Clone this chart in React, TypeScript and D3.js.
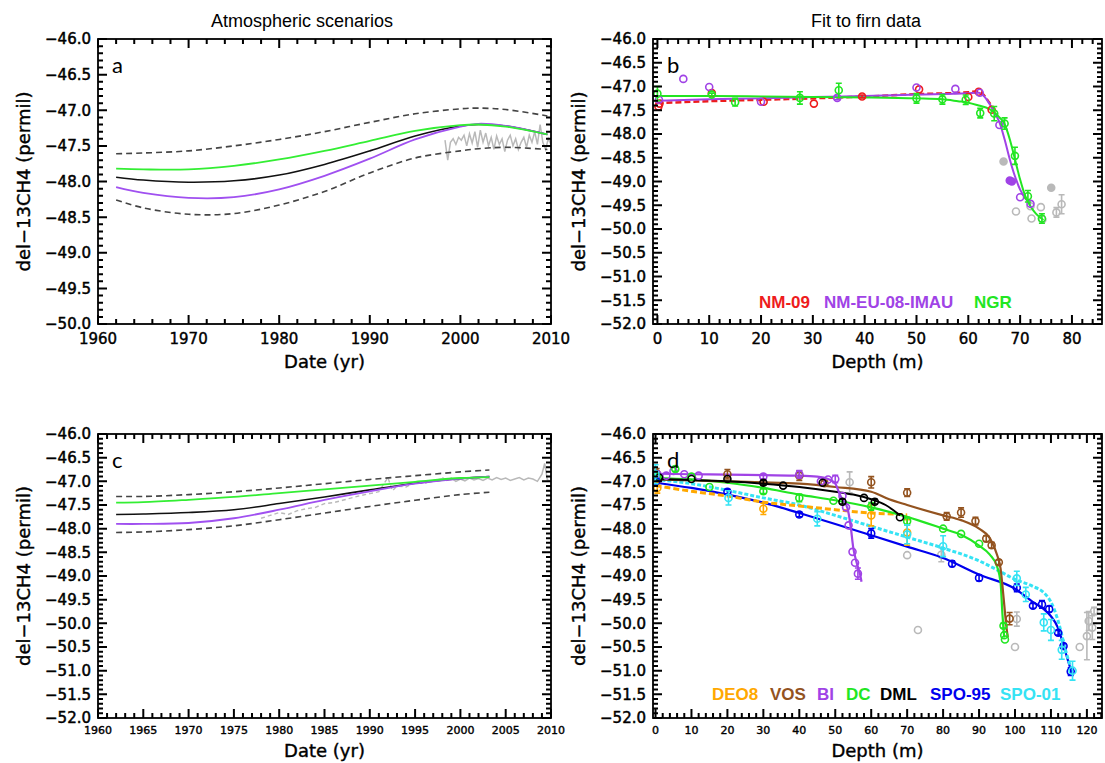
import React from "react";
import * as d3 from "d3";

// ---------------- Panel a : atmospheric scenarios (NH) ----------------
const yearsA = [1962, 1965, 1970, 1975, 1980, 1985, 1990, 1995, 2000, 2002, 2005, 2009.6];
const aUpper = [-47.61, -47.6, -47.57, -47.5, -47.41, -47.3, -47.17, -47.05, -46.98, -46.97, -46.99, -47.08];
const aGreen = [-47.82, -47.83, -47.83, -47.78, -47.69, -47.57, -47.43, -47.29, -47.21, -47.2, -47.23, -47.34];
const aBlack = [-47.94, -47.98, -48.01, -47.99, -47.91, -47.76, -47.57, -47.36, -47.22, -47.2, -47.22, -47.34];
const aPurple = [-48.08, -48.16, -48.23, -48.22, -48.11, -47.92, -47.68, -47.41, -47.23, -47.19, -47.22, -47.34];
const aLower = [-48.26, -48.37, -48.46, -48.45, -48.33, -48.14, -47.88, -47.67, -47.57, -47.54, -47.52, -47.55];
const aObsYears = [1998.3, 1998.6, 1998.9, 1999.2, 1999.5, 1999.8, 2000.1, 2000.4, 2000.7, 2001.0, 2001.3, 2001.6, 2001.9, 2002.2, 2002.5, 2002.8, 2003.1, 2003.4, 2003.7, 2004.0, 2004.3, 2004.6, 2004.9, 2005.2, 2005.5, 2005.8, 2006.1, 2006.4, 2006.7, 2007.0, 2007.3, 2007.6, 2007.9, 2008.2, 2008.5, 2008.8, 2009.1, 2009.4, 2009.7, 2010.0];
const aObs = [-47.42, -47.7, -47.45, -47.4, -47.48, -47.38, -47.42, -47.35, -47.5, -47.33, -47.46, -47.3, -47.52, -47.28, -47.45, -47.32, -47.5, -47.38, -47.55, -47.36, -47.48, -47.4, -47.58, -47.42, -47.35, -47.5, -47.4, -47.55, -47.45, -47.38, -47.52, -47.35, -47.45, -47.3, -47.48, -47.2, -47.45, -47.55, -47.4, -47.48];

// ---------------- Panel c : atmospheric scenarios (SH) ----------------
const yearsC = [1962, 1965, 1970, 1975, 1980, 1985, 1990, 1995, 2000, 2003.2];
const cUpper = [-47.32, -47.32, -47.28, -47.22, -47.14, -47.05, -46.96, -46.88, -46.8, -46.76];
const cGreen = [-47.45, -47.44, -47.39, -47.33, -47.25, -47.17, -47.09, -47.01, -46.93, -46.91];
const cBlack = [-47.7, -47.69, -47.66, -47.6, -47.47, -47.33, -47.18, -47.04, -46.94, -46.9];
const cPurple = [-47.9, -47.9, -47.88, -47.78, -47.6, -47.39, -47.21, -47.05, -46.94, -46.9];
const cLower = [-48.08, -48.07, -48.02, -47.94, -47.81, -47.67, -47.53, -47.4, -47.28, -47.23];
const cIceYears = [1978, 1979, 1980, 1981, 1982, 1983, 1984, 1985, 1986, 1987, 1988, 1989, 1990, 1991, 1992, 1992.5, 1993, 1994, 1995, 1996, 1997, 1998];
const cIce = [-47.78, -47.72, -47.66, -47.7, -47.62, -47.58, -47.55, -47.47, -47.45, -47.4, -47.35, -47.3, -47.26, -47.22, -46.92, -47.2, -47.1, -47.12, -47.02, -47.05, -46.98, -46.95];
const cObsYears = [1998, 1998.5, 1999, 1999.5, 2000, 2000.5, 2001, 2001.5, 2002, 2002.5, 2003, 2003.5, 2004, 2004.5, 2005, 2005.5, 2006, 2006.5, 2007, 2007.5, 2008, 2008.5, 2009, 2009.3, 2009.6, 2010];
const cObs = [-46.92, -46.98, -46.93, -47.0, -46.95, -46.99, -46.93, -46.97, -46.94, -46.98, -46.93, -46.97, -46.92, -46.96, -46.93, -46.98, -46.95, -46.92, -46.97, -46.93, -46.95, -47.0, -46.85, -46.62, -46.97, -47.0];

// ---------------- Panel b : NEEM / NGRIP firn ----------------
const nm09Depth = [0, 10, 20, 30, 40, 50, 60, 62, 63, 64, 65];
const nm09Fit = [-47.35, -47.31, -47.28, -47.25, -47.21, -47.16, -47.12, -47.1, -47.18, -47.33, -47.47];
const nmeuDepth = [0, 10, 20, 30, 40, 50, 60, 62, 63, 64, 65, 66, 67, 68, 69, 70, 71, 72];
const nmeuFit = [-47.3, -47.27, -47.25, -47.22, -47.2, -47.17, -47.14, -47.13, -47.2, -47.35, -47.54, -47.75, -48.11, -48.53, -48.89, -49.17, -49.35, -49.49];
const ngrDepth = [0, 10, 20, 30, 40, 50, 55, 58, 60, 62, 64, 65, 66, 67, 68, 69, 70, 71, 72, 73, 74, 74.5];
const ngrFit = [-47.2, -47.2, -47.21, -47.22, -47.23, -47.25, -47.27, -47.31, -47.34, -47.4, -47.47, -47.54, -47.65, -47.79, -48.11, -48.53, -48.96, -49.31, -49.52, -49.67, -49.77, -49.81];

// [depth, value, error]
const nm09Pts = [[0.2, -47.42, 0], [0.4, -47.36, 0], [10.5, -47.14, 0], [20.5, -47.32, 0], [30.2, -47.36, 0], [39.5, -47.21, 0.03], [50.5, -47.06, 0], [60, -47.22, 0], [62, -47.11, 0], [64.5, -47.49, 0]];
const nmeuPts = [[0.3, -47.28, 0], [5, -46.84, 0], [10, -47.01, 0], [20, -47.32, 0], [34.7, -47.24, 0.04], [50, -47.02, 0], [57.5, -47.05, 0], [62.2, -47.13, 0], [66, -47.81, 0], [70, -49.33, 0], [72, -49.47, 0]];
const nmeuFilled = [[68, -48.98, 0], [68.4, -49.0, 0]];
const ngrPts = [[0, -47.15, 0.15], [10.5, -47.17, 0.03], [15, -47.33, 0.08], [27.5, -47.24, 0.13], [35, -47.08, 0.15], [50, -47.25, 0.1], [55, -47.27, 0.1], [59.5, -47.28, 0.1], [62.3, -47.56, 0.1], [65, -47.57, 0.15], [67, -47.78, 0.12], [69, -48.46, 0.18], [71.5, -49.31, 0.12], [74.2, -49.78, 0.1]];
const grayPtsB = [[69.2, -49.63, 0], [72, -49.52, 0], [72.2, -49.78, 0], [74, -49.54, 0], [74.3, -49.8, 0], [77, -49.65, 0.1], [78, -49.48, 0.2]];
const grayFilledB = [[66.8, -48.58, 0], [76, -49.13, 0]];

// ---------------- Panel d : Antarctic firn ----------------
const deo8Depth = [0, 10, 20, 30, 40, 50, 60, 68, 70];
const deo8Fit = [-47.09, -47.21, -47.31, -47.44, -47.52, -47.6, -47.67, -47.7, -47.71];
const vosDepth = [0, 10, 20, 30, 40, 50, 60, 65, 70, 80, 85, 90, 93, 95, 96, 96.5, 97, 97.5, 98];
const vosFit = [-46.96, -46.98, -47.0, -47.02, -47.05, -47.12, -47.22, -47.38, -47.5, -47.72, -47.82, -48.0, -48.2, -48.55, -48.85, -49.2, -49.6, -50.0, -50.3];
const biDepth = [0, 10, 20, 30, 40, 45, 48, 50, 51.4, 53.4, 54.3, 55, 56, 57, 57.3];
const biFit = [-46.84, -46.85, -46.86, -46.87, -46.88, -46.9, -46.95, -47.05, -47.3, -47.57, -47.96, -48.4, -48.73, -49.0, -49.12];
const dcDepth = [0, 10, 20, 30, 40, 50, 60, 70, 80, 85, 90, 93, 95, 96, 96.5, 97];
const dcFit = [-46.93, -46.96, -47.03, -47.14, -47.28, -47.4, -47.55, -47.75, -48.0, -48.13, -48.36, -48.55, -48.8, -49.15, -49.8, -50.3];
const dmlDepth = [0, 10, 20, 30, 40, 50, 55, 60, 64, 66, 68];
const dmlFit = [-46.95, -46.97, -47.0, -47.05, -47.12, -47.22, -47.28, -47.38, -47.5, -47.6, -47.72];
const spo95Depth = [0, 10, 20, 30, 40, 50, 60, 70, 80, 90, 100, 105, 108, 110, 112, 114, 116];
const spo95Fit = [-47.03, -47.14, -47.28, -47.45, -47.67, -47.9, -48.14, -48.38, -48.62, -48.97, -49.27, -49.55, -49.7, -49.85, -50.1, -50.6, -51.1];
const spo01Depth = [0, 10, 20, 30, 40, 50, 60, 70, 80, 90, 95, 100, 105, 108, 110, 112, 114, 116];
const spo01Fit = [-46.96, -47.05, -47.19, -47.35, -47.5, -47.72, -47.95, -48.18, -48.41, -48.68, -48.87, -49.07, -49.22, -49.35, -49.55, -49.95, -50.55, -51.05];

const deo8Pts = [[0.5, -47.14, 0.11], [30, -47.58, 0.12], [60, -47.72, 0.22], [70, -48.08, 0.27]];
const vosPts = [[0.3, -46.83, 0.1], [20, -46.85, 0.1], [40, -46.88, 0.1], [47, -47.04, 0.05], [60, -47.02, 0.12], [70, -47.24, 0.08], [81, -47.74, 0.08], [85, -47.66, 0.1], [89, -47.84, 0.08], [92, -48.21, 0.06], [93.5, -48.35, 0.06], [95.5, -48.71, 0.05], [98.5, -49.9, 0.13]];
const biPts = [[0.5, -46.85, 0], [3, -46.88, 0], [5, -46.78, 0], [8, -46.85, 0], [12, -46.88, 0], [30, -46.9, 0.05], [40, -46.85, 0.08], [46, -47.0, 0], [48, -46.96, 0], [50, -46.95, 0.08], [52, -47.31, 0], [53, -47.55, 0], [53.7, -47.93, 0], [54.8, -48.49, 0], [55.5, -48.72, 0], [56.3, -48.95, 0.12]];
const dcPts = [[0.5, -46.9, 0], [5.5, -46.74, 0.05], [10, -46.9, 0], [15, -47.12, 0], [30, -47.21, 0.05], [40, -47.35, 0.08], [49.5, -47.41, 0], [60, -47.53, 0.08], [70, -47.84, 0.08], [80, -48.0, 0], [85, -48.11, 0], [90, -48.32, 0], [96.8, -50.05, 0.05], [97, -50.25, 0], [97.2, -50.34, 0]];
const dmlPts = [[1, -46.92, 0], [10, -46.95, 0], [20, -46.95, 0], [30, -47.03, 0.05], [35.5, -47.09, 0], [46.5, -47.03, 0], [52, -47.43, 0.05], [58, -47.35, 0], [61, -47.43, 0.05], [68, -47.76, 0]];
const spo95Pts = [[0.2, -47.0, 0], [20, -47.22, 0.05], [40, -47.7, 0.05], [60, -48.1, 0.1], [82.5, -48.74, 0.06], [90, -49.04, 0.06], [100.5, -49.25, 0.08], [105, -49.63, 0.05], [107.5, -49.6, 0.08], [109.5, -49.7, 0.06], [112, -50.2, 0.05], [113.5, -50.48, 0.05], [115.5, -51.02, 0.08]];
const spo01Pts = [[0, -46.85, 0.2], [20.3, -47.35, 0.15], [45, -47.79, 0.15], [70, -48.12, 0.2], [80, -48.37, 0.22], [100.5, -49.05, 0.15], [103, -49.39, 0.15], [108, -49.98, 0.18], [110, -50.14, 0.22], [113, -50.56, 0.2], [116, -51.0, 0.2]];
const grayPtsD = [[54, -47.02, 0.22], [70, -48.56, 0], [73, -50.14, 0], [79.5, -48.55, 0.15], [100, -50.5, 0], [100.5, -49.91, 0.15], [118, -50.5, 0], [120, -50.27, 0.5], [120.5, -49.95, 0.2], [121.5, -50.09, 0.25], [122, -49.74, 0.08]];

const legendB = ["NM-09", "NM-EU-08-IMAU", "NGR"];
const legendD = ["DEO8", "VOS", "BI", "DC", "DML", "SPO-95", "SPO-01"];

// ---------------- styling ----------------
const C = {
  red: "#ee1c1c",
  purple: "#a043e6",
  green: "#22e622",
  orange: "#ffa800",
  brown: "#93531f",
  black: "#000000",
  blue: "#0000ee",
  cyan: "#35e3f4",
  gray: "#b9b9b9",
  dash: "#444444",
};
const legendBColors = [C.red, C.purple, C.green];
const legendDColors = [C.orange, C.brown, C.purple, C.green, C.black, C.blue, C.cyan];

type Scale = d3.ScaleLinear<number, number>;
const tickFont = "'DejaVu Sans', Verdana, sans-serif";
const fmt = d3.format(".1f");

function makePath(xs: number[], ys: number[], sx: Scale, sy: Scale, curve: d3.CurveFactory) {
  const pts: [number, number][] = xs.map((x, i) => [x, ys[i]]);
  return (
    d3
      .line<[number, number]>()
      .x((d) => sx(d[0]))
      .y((d) => sy(d[1]))
      .curve(curve)(pts) || ""
  );
}

function Points({ data, sx, sy, color, filled = false }: { data: number[][]; sx: Scale; sy: Scale; color: string; filled?: boolean }) {
  return (
    <g>
      {data.map((p, i) => {
        const [dx, v, e] = p;
        const cx = sx(dx);
        const cy = sy(v);
        return (
          <g key={i}>
            {e > 0 && (
              <path
                d={`M${cx},${sy(v - e)}V${sy(v + e)}M${cx - 3},${sy(v - e)}H${cx + 3}M${cx - 3},${sy(v + e)}H${cx + 3}`}
                stroke={color}
                strokeWidth={1.6}
                fill="none"
              />
            )}
            <circle cx={cx} cy={cy} r={3.5} fill={filled ? color : "none"} stroke={color} strokeWidth={1.6} />
          </g>
        );
      })}
    </g>
  );
}

function tickPath(sx: Scale, sy: Scale, xMinor: number[], xMajor: number[], yMinor: number[], yMajor: number[], minL: number, majL: number) {
  const [l, r] = sx.range();
  const [b, t] = sy.range();
  const segs: string[] = [];
  const v = (X: number, len: number) => {
    segs.push(`M${X},${b}v${-len}`);
    segs.push(`M${X},${t}v${len}`);
  };
  const h = (Y: number, len: number) => {
    segs.push(`M${l},${Y}h${len}`);
    segs.push(`M${r},${Y}h${-len}`);
  };
  xMinor.forEach((x) => v(sx(x), minL));
  xMajor.forEach((x) => v(sx(x), majL));
  yMinor.forEach((y) => h(sy(y), minL));
  yMajor.forEach((y) => h(sy(y), majL));
  return segs.join("");
}

interface FrameProps {
  id: string;
  sx: Scale;
  sy: Scale;
  xMajor: number[];
  xMinor: number[];
  xLabels: number[];
  yMajor: number[];
  yMinor: number[];
  xLabelSize: number;
  xLabelDy: number;
  xTitle: string;
  xTitleDy: number;
  letter: string;
  children?: React.ReactNode;
}

function Frame(p: FrameProps) {
  const [l, r] = p.sx.range();
  const [b, t] = p.sy.range();
  const cx = (l + r) / 2;
  const cy = (t + b) / 2;
  const d = tickPath(p.sx, p.sy, p.xMinor, p.xMajor, p.yMinor, p.yMajor, 5, 9);
  return (
    <g>
      <defs>
        <clipPath id={p.id}>
          <rect x={l} y={t} width={r - l} height={b - t} />
        </clipPath>
      </defs>
      <g clipPath={`url(#${p.id})`}>{p.children}</g>
      <rect x={l} y={t} width={r - l} height={b - t} fill="none" stroke="#000" strokeWidth={1.8} />
      <path d={d} fill="none" stroke="#000" strokeWidth={2} />
      <g fontFamily={tickFont} fontSize={15} fill="#000" stroke="#000" strokeWidth={0.5} textAnchor="end">
        {p.yMajor.map((v, i) => (
          <text key={"yl" + i} x={l - 7} y={p.sy(v)} dy="0.36em">
            {fmt(v)}
          </text>
        ))}
      </g>
      <g fontFamily={tickFont} fontSize={p.xLabelSize} fill="#000" stroke="#000" strokeWidth={0.4} textAnchor="middle">
        {p.xLabels.map((v, i) => (
          <text key={"xl" + i} x={p.sx(v)} y={b + p.xLabelDy}>
            {v}
          </text>
        ))}
      </g>
      <text x={cx} y={b + p.xTitleDy} fontFamily={tickFont} fontSize={18} textAnchor="middle" fill="#000" stroke="#000" strokeWidth={0.4}>
        {p.xTitle}
      </text>
      <text
        transform={`translate(${l - 74},${cy}) rotate(-90)`}
        fontFamily={tickFont}
        fontSize={18}
        textAnchor="middle"
        dy="0.35em"
        fill="#000"
        stroke="#000"
        strokeWidth={0.4}
      >
        del−13CH4 (permil)
      </text>
      <text x={l + 14} y={t + 34} fontFamily="Lato, 'Open Sans', sans-serif" fontSize={22} fill="#000">
        {p.letter}
      </text>
    </g>
  );
}

const tenth = (a: number, b: number) => d3.range(Math.round(a * 10), Math.round(b * 10) + 1).map((v) => v / 10);
const halves = (a: number, b: number) => d3.range(Math.round(a * 2), Math.round(b * 2) + 1).map((v) => v / 2);

export default function App() {
  const xa = d3.scaleLinear().domain([1960, 2010]).range([98, 551]);
  const ya = d3.scaleLinear().domain([-50, -46]).range([324, 39]);
  const xb = d3.scaleLinear().domain([-0.85, 85.8]).range([653, 1102]);
  const yb = d3.scaleLinear().domain([-52, -46]).range([324, 39]);
  const xc = d3.scaleLinear().domain([1960, 2010]).range([98, 551]);
  const yc = d3.scaleLinear().domain([-52, -46]).range([718, 434]);
  const xd = d3.scaleLinear().domain([-0.7, 124.2]).range([653, 1102]);
  const yd = d3.scaleLinear().domain([-52, -46]).range([718, 434]);

  const smooth = d3.curveCatmullRom.alpha(0.5);
  const mono = d3.curveMonotoneX;

  const scen = (years: number[], up: number[], g: number[], k: number[], pu: number[], lo: number[], sx: Scale, sy: Scale) => (
    <g fill="none">
      <path d={makePath(years, up, sx, sy, smooth)} stroke={C.dash} strokeWidth={1.6} strokeDasharray="6,4" />
      <path d={makePath(years, lo, sx, sy, smooth)} stroke={C.dash} strokeWidth={1.6} strokeDasharray="6,4" />
      <path d={makePath(years, k, sx, sy, smooth)} stroke="#111" strokeWidth={1.6} />
      <path d={makePath(years, pu, sx, sy, smooth)} stroke="#a050f0" strokeWidth={1.8} />
      <path d={makePath(years, g, sx, sy, smooth)} stroke="#33ee33" strokeWidth={1.8} />
    </g>
  );

  const legendFont = "'Liberation Sans', Arial, sans-serif";

  return (
    <svg width={1105} height={763} style={{ position: "absolute", left: 0, top: 0, background: "#fff" }}>
      <rect x={0} y={0} width={1105} height={763} fill="#fff" />
      <text x={302} y={27} fontFamily={legendFont} fontSize={18} textAnchor="middle" fill="#000">
        Atmospheric scenarios
      </text>
      <text x={866} y={27} fontFamily={legendFont} fontSize={18} textAnchor="middle" fill="#000">
        Fit to firn data
      </text>

      {/* Panel a */}
      <Frame
        id="clipA"
        sx={xa}
        sy={ya}
        xMajor={d3.range(1960, 2011, 10)}
        xMinor={d3.range(1960, 2011, 2)}
        xLabels={d3.range(1960, 2011, 10)}
        yMajor={halves(-50, -46)}
        yMinor={tenth(-50, -46)}
        xLabelSize={15}
        xLabelDy={20}
        xTitle="Date (yr)"
        xTitleDy={44}
        letter="a"
      >
        <path d={makePath(aObsYears, aObs, xa, ya, d3.curveLinear)} fill="none" stroke={C.gray} strokeWidth={1.5} />
        {scen(yearsA, aUpper, aGreen, aBlack, aPurple, aLower, xa, ya)}
      </Frame>

      {/* Panel b */}
      <Frame
        id="clipB"
        sx={xb}
        sy={yb}
        xMajor={d3.range(0, 81, 10)}
        xMinor={d3.range(0, 86, 2)}
        xLabels={d3.range(0, 81, 10)}
        yMajor={halves(-52, -46)}
        yMinor={tenth(-52, -46)}
        xLabelSize={15}
        xLabelDy={20}
        xTitle="Depth (m)"
        xTitleDy={44}
        letter="b"
      >
        <Points data={grayPtsB} sx={xb} sy={yb} color={C.gray} />
        <Points data={grayFilledB} sx={xb} sy={yb} color={C.gray} filled />
        <g fill="none">
          <path d={makePath(nm09Depth, nm09Fit, xb, yb, mono)} stroke={C.red} strokeWidth={2.4} strokeDasharray="6,3" />
          <path d={makePath(nmeuDepth, nmeuFit, xb, yb, mono)} stroke={C.purple} strokeWidth={2} />
          <path d={makePath(ngrDepth, ngrFit, xb, yb, mono)} stroke={C.green} strokeWidth={2} />
        </g>
        <Points data={nm09Pts} sx={xb} sy={yb} color={C.red} />
        <Points data={nmeuPts} sx={xb} sy={yb} color={C.purple} />
        <Points data={nmeuFilled} sx={xb} sy={yb} color={C.purple} filled />
        <Points data={ngrPts} sx={xb} sy={yb} color={C.green} />
      </Frame>
      <g fontFamily={legendFont} fontSize={17} fontWeight="bold">
        {legendB.map((s, i) => (
          <text key={s} x={[759, 824, 974][i]} y={308} fill={legendBColors[i]}>
            {s}
          </text>
        ))}
      </g>

      {/* Panel c */}
      <Frame
        id="clipC"
        sx={xc}
        sy={yc}
        xMajor={d3.range(1960, 2011, 5)}
        xMinor={d3.range(1960, 2011, 1)}
        xLabels={d3.range(1960, 2011, 5)}
        yMajor={halves(-52, -46)}
        yMinor={tenth(-52, -46)}
        xLabelSize={11}
        xLabelDy={16}
        xTitle="Date (yr)"
        xTitleDy={39}
        letter="c"
      >
        <path d={makePath(cIceYears, cIce, xc, yc, d3.curveLinear)} fill="none" stroke={C.gray} strokeWidth={1.4} strokeDasharray="4,3" />
        <path d={makePath(cObsYears, cObs, xc, yc, d3.curveLinear)} fill="none" stroke={C.gray} strokeWidth={1.5} />
        {scen(yearsC, cUpper, cGreen, cBlack, cPurple, cLower, xc, yc)}
      </Frame>

      {/* Panel d */}
      <Frame
        id="clipD"
        sx={xd}
        sy={yd}
        xMajor={d3.range(0, 121, 10)}
        xMinor={d3.range(0, 125, 2)}
        xLabels={d3.range(0, 121, 10)}
        yMajor={halves(-52, -46)}
        yMinor={tenth(-52, -46)}
        xLabelSize={11}
        xLabelDy={16}
        xTitle="Depth (m)"
        xTitleDy={39}
        letter="d"
      >
        <Points data={grayPtsD} sx={xd} sy={yd} color={C.gray} />
        <g fill="none">
          <path d={makePath(spo95Depth, spo95Fit, xd, yd, mono)} stroke={C.blue} strokeWidth={2.2} />
          <path d={makePath(spo01Depth, spo01Fit, xd, yd, mono)} stroke={C.cyan} strokeWidth={3} strokeDasharray="4,2" />
          <path d={makePath(deo8Depth, deo8Fit, xd, yd, mono)} stroke={C.orange} strokeWidth={3} strokeDasharray="6,3" />
          <path d={makePath(dcDepth, dcFit, xd, yd, mono)} stroke={C.green} strokeWidth={2.2} />
          <path d={makePath(vosDepth, vosFit, xd, yd, mono)} stroke={C.brown} strokeWidth={2.2} />
          <path d={makePath(dmlDepth, dmlFit, xd, yd, mono)} stroke={C.black} strokeWidth={2} />
          <path d={makePath(biDepth, biFit, xd, yd, mono)} stroke={C.purple} strokeWidth={2.2} />
        </g>
        <Points data={deo8Pts} sx={xd} sy={yd} color={C.orange} />
        <Points data={vosPts} sx={xd} sy={yd} color={C.brown} />
        <Points data={biPts} sx={xd} sy={yd} color={C.purple} />
        <Points data={dcPts} sx={xd} sy={yd} color={C.green} />
        <Points data={dmlPts} sx={xd} sy={yd} color={C.black} />
        <Points data={spo95Pts} sx={xd} sy={yd} color={C.blue} />
        <Points data={spo01Pts} sx={xd} sy={yd} color={C.cyan} />
      </Frame>
      <g fontFamily={legendFont} fontSize={17} fontWeight="bold">
        {legendD.map((s, i) => (
          <text key={s} x={[712, 770, 817, 846, 880, 930, 1000][i]} y={700} fill={legendDColors[i]}>
            {s}
          </text>
        ))}
      </g>
    </svg>
  );
}
